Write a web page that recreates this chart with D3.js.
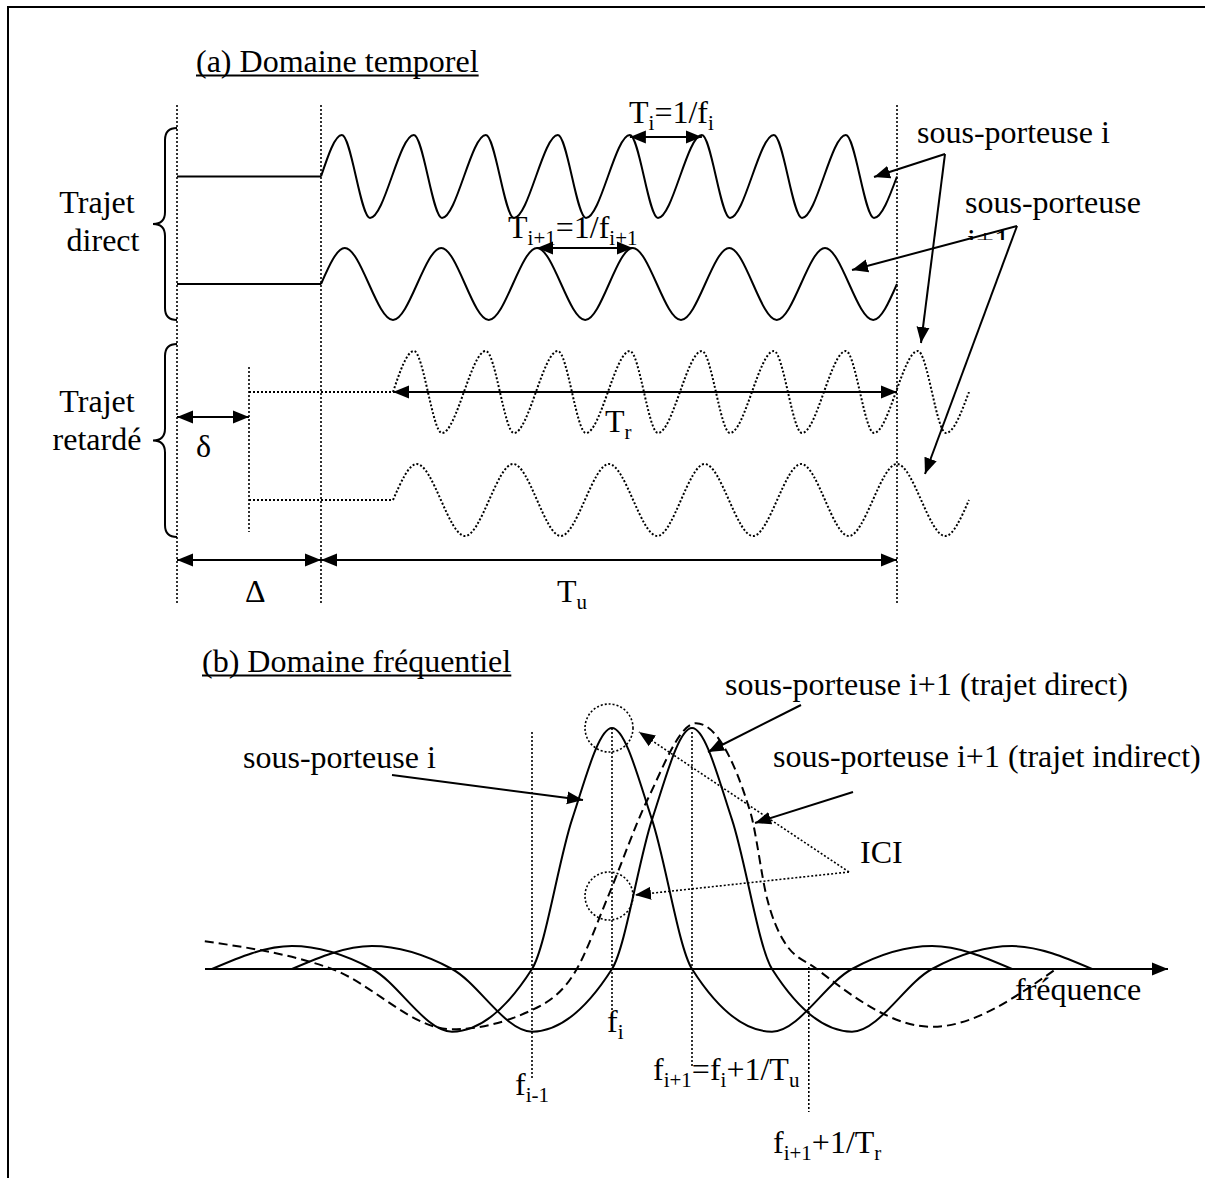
<!DOCTYPE html>
<html>
<head>
<meta charset="utf-8">
<script src="https://cdn.jsdelivr.net/npm/d3@7"></script>
<style>
  body { margin: 0; background: #fff; }
  text { font-family: "Liberation Serif", "Times New Roman", serif; font-size: 32px; fill: #000; }
</style>
</head>
<body>
<svg id="fig" width="1205" height="1178"></svg>
<script>
// ---------- (a) time domain: one unit = one period T_i of sub-carrier i ----------
// guard interval Δ = 2 units, useful symbol T_u = 8 units, echo delay δ = 1 unit
const timeGuides = [-2, 0, 8];          // start of guard, start / end of useful symbol
const delayGuide = -1;                  // start of the delayed copy
// knots [t, level] : level +1 = crest, -1 = trough
const carrierIDirect = [[0,0],[0.29,1],[0.68,-1],[1.29,1],[1.68,-1],[2.29,1],[2.68,-1],[3.29,1],[3.68,-1],
  [4.29,1],[4.68,-1],[5.29,1],[5.68,-1],[6.29,1],[6.68,-1],[7.29,1],[7.68,-1],[8,0]];
const carrierI1Direct = [[0,0],[0.33,1],[1,-1],[1.67,1],[2.33,-1],[3,1],[3.67,-1],[4.33,1],[5,-1],
  [5.67,1],[6.33,-1],[7,1],[7.67,-1],[8,0]];
const carrierIDelayed = [[1,0],[1.29,1],[1.68,-1],[2.29,1],[2.68,-1],[3.29,1],[3.68,-1],[4.29,1],[4.68,-1],
  [5.29,1],[5.68,-1],[6.29,1],[6.68,-1],[7.29,1],[7.68,-1],[8.29,1],[8.68,-1],[9,0]];
const carrierI1Delayed = [[1,0],[1.33,1],[2,-1],[2.67,1],[3.33,-1],[4,1],[4.67,-1],[5.33,1],[6,-1],
  [6.67,1],[7.33,-1],[8,1],[8.67,-1],[9,0]];
const periodI = [4.29, 5.29];           // two successive crests of carrier i
const periodI1 = [3, 4.33];             // two successive crests of carrier i+1
const spanTr = [1, 8];                  // window seen by the delayed path
const spanGuard = [-2, 0];
const spanTu = [0, 8];
const spanDelay = [-2, -1];

// ---------- (b) frequency domain: one unit = 1/T_u, origin at f_i ----------
const freqGuides = [-1, 0, 1, 2.46];    // f_{i-1}, f_i, f_{i+1}, f_{i+1}+1/T_r
const spectrumI = [[-5,0],[-4,0.095],[-3,0],[-2,-0.26],[-1,0],[-0.5,0.62],[0,1],[0.5,0.62],[1,0],
  [2,-0.26],[3,0],[4,0.095],[5,0]];
const spectrumI1 = [[-4,0],[-3,0.095],[-2,0],[-1,-0.26],[0,0],[0.5,0.62],[1,1],[1.5,0.62],[2,0],
  [3,-0.26],[4,0],[5,0.095],[6,0]];
const spectrumI1Echo = [[-5.09,0.115],[-3.5,0],[-2,-0.25],[-1,-0.17],[-0.44,0],[-0.05,0.3],[0.44,0.7],
  [1.05,1.02],[1.73,0.65],[1.94,0.29],[2.14,0.12],[2.56,0],[4,-0.24],[5.55,0]];

// ---------- drawing ----------
const svg = d3.select("#fig");
const defs = svg.append("defs");
defs.append("marker").attr("id", "head")
  .attr("viewBox", "0 -7 16 14").attr("refX", 16).attr("refY", 0)
  .attr("markerWidth", 16).attr("markerHeight", 14)
  .attr("markerUnits", "userSpaceOnUse").attr("orient", "auto-start-reverse")
  .append("path").attr("d", "M0,-6.5L16,0L0,6.5Z").attr("fill", "#000");
defs.append("clipPath").attr("id", "cutLabel")
  .append("rect").attr("x", 900).attr("y", 0).attr("width", 300).attr("height", 240);

const DOT = "2,2";
function line(x1, y1, x2, y2, o = {}) {
  const l = svg.append("line").attr("x1", x1).attr("y1", y1).attr("x2", x2).attr("y2", y2)
    .attr("stroke", "#000").attr("stroke-width", o.w || 2);
  if (o.dash) l.attr("stroke-dasharray", o.dash);
  if (o.end) l.attr("marker-end", "url(#head)");
  if (o.start) l.attr("marker-start", "url(#head)");
  return l;
}
function label(x, y, parts, anchor) {
  const t = svg.append("text").attr("x", x).attr("y", y).attr("text-anchor", anchor || "start");
  let low = false;
  parts.forEach(p => {
    const isSub = Array.isArray(p);
    const ts = t.append("tspan").text(isSub ? p[0] : p);
    if (isSub) {
      ts.attr("font-size", 21);
      if (!low) { ts.attr("dy", 7); low = true; }
    } else if (low) { ts.attr("dy", -7); low = false; }
  });
  return t;
}
function title(x, y, s) {
  const t = svg.append("text").attr("x", x).attr("y", y).text(s);
  const b = t.node().getBBox();
  line(b.x, y + 3.5, b.x + b.width, y + 3.5, { w: 2 });
}

// frame
line(8, 7, 1205, 7, { w: 2 });
line(8, 6, 8, 1178, { w: 2 });

// ----- (a) -----
title(196, 72, "(a) Domaine temporel");
const xT = d3.scaleLinear().domain([-2, 8]).range([177, 897]);
const row = (c, a) => d3.scaleLinear().domain([-1, 1]).range([c + a, c - a]);
const rows = {
  iDir: row(176.5, 41.5), i1Dir: row(284, 36), iDel: row(392, 41), i1Del: row(500, 36)
};
function wave(data, y, dash) {
  const gen = d3.line().x(d => xT(d[0])).y(d => y(d[1])).curve(d3.curveMonotoneX);
  const p = svg.append("path").attr("d", gen(data)).attr("fill", "none")
    .attr("stroke", "#000").attr("stroke-width", 2);
  if (dash) p.attr("stroke-dasharray", DOT);
}

timeGuides.forEach(t => line(xT(t), 105, xT(t), 605, { w: 1.6, dash: DOT }));
line(xT(delayGuide), 367, xT(delayGuide), 532, { w: 1.6, dash: DOT });

// direct path: silent guard then carrier
line(xT(-2), rows.iDir(0), xT(0), rows.iDir(0));
wave(carrierIDirect, rows.iDir, false);
line(xT(-2), rows.i1Dir(0), xT(0), rows.i1Dir(0));
wave(carrierI1Direct, rows.i1Dir, false);
// delayed path
line(xT(delayGuide), rows.iDel(0), xT(1), rows.iDel(0), { w: 2, dash: DOT });
wave(carrierIDelayed, rows.iDel, true);
line(xT(delayGuide), rows.i1Del(0), xT(1), rows.i1Del(0), { w: 2, dash: DOT });
wave(carrierI1Delayed, rows.i1Del, true);

// braces
function brace(x, y0, y1) {
  const m = (y0 + y1) / 2, xi = x - 12, xt = x - 24;
  svg.append("path").attr("fill", "none").attr("stroke", "#000").attr("stroke-width", 2)
    .attr("d", `M${x},${y0} Q${xi},${y0} ${xi},${y0 + 12} L${xi},${m - 12} Q${xi},${m} ${xt},${m}` +
      ` Q${xi},${m} ${xi},${m + 12} L${xi},${y1 - 12} Q${xi},${y1} ${x},${y1}`);
}
brace(177, 128, 320);
brace(177, 344, 537);
label(97, 213, ["Trajet"], "middle");
label(103, 251, ["direct"], "middle");
label(97, 412, ["Trajet"], "middle");
label(97, 450, ["retardé"], "middle");

// period arrows and labels
line(xT(periodI[0]), 137, xT(periodI[1]), 137, { start: true, end: true });
label(629, 123, ["T", ["i"], "=1/f", ["i"]]);
line(xT(periodI1[0]), 248, xT(periodI1[1]), 248, { start: true, end: true });
label(508, 238, ["T", ["i+1"], "=1/f", ["i+1"]]);
line(xT(spanTr[0]), 392, xT(spanTr[1]), 392, { start: true, end: true });
label(605, 432, ["T", ["r"]]);
line(xT(spanDelay[0]), 417, xT(spanDelay[1]), 417, { start: true, end: true });
label(196, 457, ["δ"]);
line(xT(spanGuard[0]), 560, xT(spanGuard[1]), 560, { start: true, end: true });
label(245, 602, ["Δ"]);
line(xT(spanTu[0]), 560, xT(spanTu[1]), 560, { start: true, end: true });
label(557, 602, ["T", ["u"]]);

// callouts
label(917, 143, ["sous-porteuse i"]);
line(945, 154, 874, 177, { end: true });
line(945, 154, 921, 343, { end: true });
label(965, 213, ["sous-porteuse"]);
svg.append("text").attr("x", 967).attr("y", 251).attr("clip-path", "url(#cutLabel)").text("i+1");
line(1017, 226, 852, 270, { end: true });
line(1017, 226, 925, 474, { end: true });

// ----- (b) -----
title(202, 672, "(b) Domaine fréquentiel");
const xF = d3.scaleLinear().domain([0, 1]).range([612, 692]);
const yF = d3.scaleLinear().domain([0, 1]).range([969, 728]);

// guides
line(xF(freqGuides[0]), 732, xF(freqGuides[0]), 1078, { w: 1.6, dash: DOT });
line(xF(freqGuides[1]), 728, xF(freqGuides[1]), 1012, { w: 1.6, dash: DOT });
line(xF(freqGuides[2]), 732, xF(freqGuides[2]), 1067, { w: 1.6, dash: DOT });
line(xF(freqGuides[3]), 967, xF(freqGuides[3]), 1112, { w: 1.6, dash: DOT });

// frequency axis
line(205, yF(0), 1168, yF(0), { end: true });
label(1015, 1000, ["fréquence"]);

const spec = d3.line().x(d => xF(d[0])).y(d => yF(d[1])).curve(d3.curveMonotoneX);
svg.append("path").attr("d", spec(spectrumI)).attr("fill", "none").attr("stroke", "#000").attr("stroke-width", 2);
svg.append("path").attr("d", spec(spectrumI1)).attr("fill", "none").attr("stroke", "#000").attr("stroke-width", 2);
svg.append("path").attr("d", spec(spectrumI1Echo)).attr("fill", "none").attr("stroke", "#000")
  .attr("stroke-width", 2).attr("stroke-dasharray", "9,5");

// ICI circles and pointers
svg.append("circle").attr("cx", 609).attr("cy", 728).attr("r", 24)
  .attr("fill", "none").attr("stroke", "#000").attr("stroke-width", 1.6).attr("stroke-dasharray", DOT);
svg.append("circle").attr("cx", 609).attr("cy", 896).attr("r", 24)
  .attr("fill", "none").attr("stroke", "#000").attr("stroke-width", 1.6).attr("stroke-dasharray", DOT);
line(849, 872, 639, 732, { w: 1.6, dash: DOT, end: true });
line(849, 872, 635, 895, { w: 1.6, dash: DOT, end: true });
label(860, 863, ["ICI"]);

// tick labels under the guides
label(515, 1095, ["f", ["i-1"]]);
label(607, 1032, ["f", ["i"]]);
label(653, 1080, ["f", ["i+1"], "=f", ["i"], "+1/T", ["u"]]);
label(773, 1153, ["f", ["i+1"], "+1/T", ["r"]]);

// callouts
label(243, 768, ["sous-porteuse i"]);
line(392, 775, 583, 800, { end: true });
label(725, 695, ["sous-porteuse i+1 (trajet direct)"]);
line(801, 705, 708, 752, { end: true });
label(773, 767, ["sous-porteuse i+1 (trajet indirect)"]);
line(853, 792, 755, 823, { end: true });
</script>
</body>
</html>
